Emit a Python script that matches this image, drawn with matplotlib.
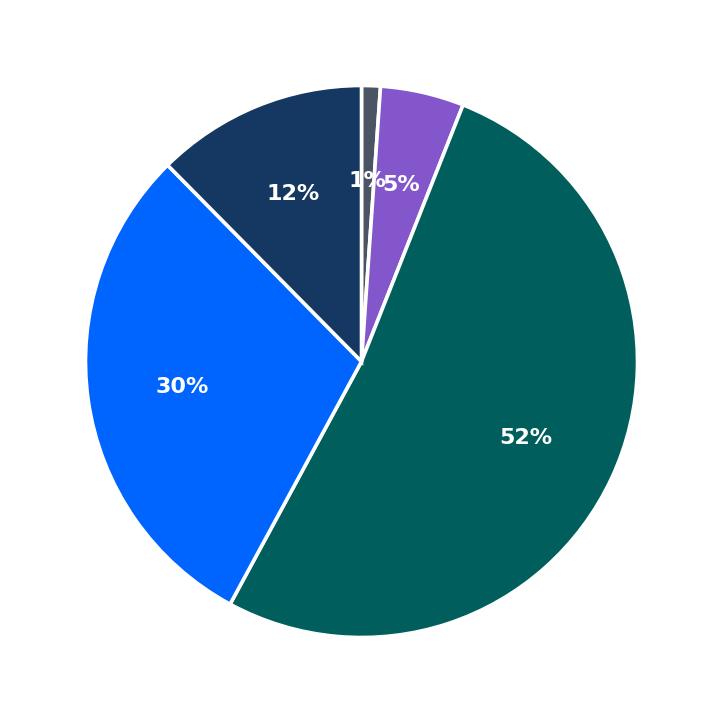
import matplotlib.pyplot as plt

labels = ['A', 'B', 'C', 'D', 'E']
values = [1.1, 4.9, 51.9, 29.7, 12.4]
colors = ['#4a5462', '#8456cb', '#005f5c', '#0064ff', '#143861']

fig = plt.figure(figsize=(7.23, 7.23), dpi=100)
ax = fig.add_axes([0, 0, 1, 1])
wedges, texts, autotexts = ax.pie(
    values, colors=colors, startangle=90, counterclock=False,
    autopct='%1.0f%%', pctdistance=0.655,
    wedgeprops=dict(edgecolor='white', linewidth=2.6),
    textprops=dict(color='white', fontsize=16, fontweight='bold'))
lim = 361.5 / 276
ax.set_xlim(-lim, lim)
ax.set_ylim(-lim, lim)
ax.set_aspect('equal')
fig.savefig('out.png', dpi=100)
